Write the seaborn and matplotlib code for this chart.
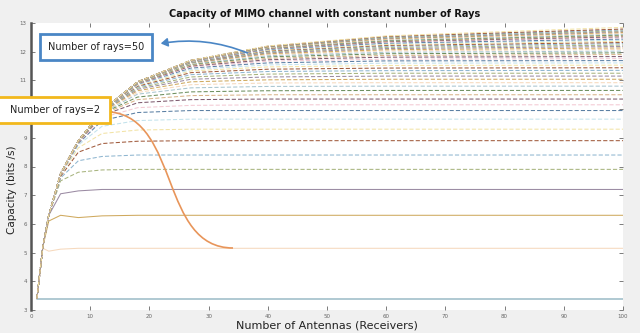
import numpy as np
import matplotlib
matplotlib.use("Agg")
import matplotlib.pyplot as plt
import seaborn as sns
from matplotlib.patches import Rectangle, PathPatch, FancyArrowPatch
from matplotlib.path import Path

# values: capacity (bits/s) per number of rays (rows)
# at each number of receive antennas (columns)
antennas = [1, 2, 3, 5, 8, 12, 18, 27, 40, 60, 100]
rays = list(range(1, 51))
capacity = [
    [3.4, 3.4, 3.4, 3.4, 3.4, 3.4, 3.4, 3.4, 3.4, 3.4, 3.4],
    [3.4, 5.15, 5.05, 5.12, 5.15, 5.15, 5.15, 5.15, 5.15, 5.15, 5.15],
    [3.4, 5.2, 6.1, 6.3, 6.22, 6.28, 6.3, 6.3, 6.3, 6.3, 6.3],
    [3.4, 5.2, 6.3, 7.05, 7.15, 7.2, 7.2, 7.2, 7.2, 7.2, 7.2],
    [3.4, 5.2, 6.3, 7.5, 7.8, 7.88, 7.9, 7.9, 7.9, 7.9, 7.9],
    [3.4, 5.2, 6.3, 7.6, 8.2, 8.35, 8.4, 8.4, 8.4, 8.4, 8.4],
    [3.4, 5.2, 6.3, 7.65, 8.5, 8.8, 8.88, 8.9, 8.9, 8.9, 8.9],
    [3.4, 5.2, 6.3, 7.7, 8.65, 9.15, 9.27, 9.3, 9.3, 9.3, 9.3],
    [3.4, 5.2, 6.3, 7.7, 8.75, 9.4, 9.6, 9.65, 9.65, 9.65, 9.65],
    [3.4, 5.2, 6.3, 7.72, 8.8, 9.6, 9.88, 9.95, 9.95, 9.95, 9.95],
    [3.4, 5.2, 6.3, 7.72, 8.83, 9.7, 10.05, 10.13, 10.15, 10.15, 10.15],
    [3.4, 5.2, 6.3, 7.73, 8.85, 9.78, 10.22, 10.33, 10.35, 10.35, 10.35],
    [3.4, 5.2, 6.3, 7.73, 8.86, 9.82, 10.33, 10.47, 10.5, 10.5, 10.5],
    [3.4, 5.2, 6.3, 7.74, 8.87, 9.85, 10.42, 10.6, 10.64, 10.65, 10.65],
    [3.4, 5.2, 6.3, 7.74, 8.88, 9.88, 10.52, 10.74, 10.79, 10.8, 10.8],
    [3.4, 5.2, 6.3, 7.74, 8.88, 9.9, 10.58, 10.85, 10.91, 10.92, 10.92],
    [3.4, 5.2, 6.3, 7.75, 8.89, 9.91, 10.64, 10.95, 11.02, 11.04, 11.04],
    [3.4, 5.2, 6.3, 7.75, 8.89, 9.92, 10.69, 11.04, 11.12, 11.15, 11.15],
    [3.4, 5.2, 6.3, 7.75, 8.89, 9.93, 10.73, 11.12, 11.22, 11.25, 11.25],
    [3.4, 5.2, 6.3, 7.75, 8.9, 9.93, 10.77, 11.2, 11.31, 11.34, 11.35],
    [3.4, 5.2, 6.3, 7.75, 8.9, 9.95, 10.8, 11.27, 11.39, 11.43, 11.44],
    [3.4, 5.2, 6.3, 7.75, 8.9, 9.95, 10.83, 11.33, 11.47, 11.52, 11.53],
    [3.4, 5.2, 6.3, 7.75, 8.9, 9.95, 10.85, 11.38, 11.54, 11.6, 11.61],
    [3.4, 5.2, 6.3, 7.75, 8.9, 9.95, 10.87, 11.43, 11.61, 11.68, 11.69],
    [3.4, 5.2, 6.3, 7.75, 8.9, 9.95, 10.88, 11.47, 11.67, 11.74, 11.76],
    [3.4, 5.2, 6.3, 7.75, 8.9, 9.95, 10.89, 11.5, 11.72, 11.81, 11.83],
    [3.4, 5.2, 6.3, 7.75, 8.9, 9.95, 10.9, 11.53, 11.77, 11.87, 11.9],
    [3.4, 5.2, 6.3, 7.75, 8.9, 9.95, 10.91, 11.56, 11.82, 11.93, 11.96],
    [3.4, 5.2, 6.3, 7.75, 8.9, 9.95, 10.92, 11.58, 11.86, 11.98, 12.02],
    [3.4, 5.2, 6.3, 7.75, 8.9, 9.95, 10.92, 11.6, 11.9, 12.03, 12.08],
    [3.4, 5.2, 6.3, 7.75, 8.9, 9.95, 10.93, 11.61, 11.93, 12.07, 12.13],
    [3.4, 5.2, 6.3, 7.75, 8.9, 9.95, 10.93, 11.62, 11.96, 12.11, 12.18],
    [3.4, 5.2, 6.3, 7.75, 8.9, 9.95, 10.93, 11.63, 11.99, 12.15, 12.23],
    [3.4, 5.2, 6.3, 7.75, 8.9, 9.95, 10.94, 11.64, 12.01, 12.19, 12.28],
    [3.4, 5.2, 6.3, 7.75, 8.9, 9.95, 10.94, 11.65, 12.03, 12.22, 12.32],
    [3.4, 5.2, 6.3, 7.75, 8.9, 9.95, 10.94, 11.66, 12.05, 12.25, 12.36],
    [3.4, 5.2, 6.3, 7.75, 8.9, 9.95, 10.94, 11.66, 12.07, 12.28, 12.4],
    [3.4, 5.2, 6.3, 7.75, 8.9, 9.95, 10.94, 11.67, 12.08, 12.3, 12.44],
    [3.4, 5.2, 6.3, 7.75, 8.9, 9.95, 10.95, 11.67, 12.1, 12.33, 12.48],
    [3.4, 5.2, 6.3, 7.75, 8.9, 9.95, 10.95, 11.68, 12.11, 12.35, 12.52],
    [3.4, 5.2, 6.3, 7.75, 8.9, 9.95, 10.95, 11.68, 12.12, 12.37, 12.55],
    [3.4, 5.2, 6.3, 7.75, 8.9, 9.95, 10.95, 11.68, 12.13, 12.39, 12.58],
    [3.4, 5.2, 6.3, 7.75, 8.9, 9.95, 10.95, 11.69, 12.14, 12.41, 12.61],
    [3.4, 5.2, 6.3, 7.75, 8.9, 9.95, 10.95, 11.69, 12.15, 12.43, 12.64],
    [3.4, 5.2, 6.3, 7.75, 8.9, 9.95, 10.95, 11.69, 12.16, 12.45, 12.67],
    [3.4, 5.2, 6.3, 7.75, 8.9, 9.95, 10.95, 11.69, 12.17, 12.47, 12.7],
    [3.4, 5.2, 6.3, 7.75, 8.9, 9.95, 10.95, 11.7, 12.18, 12.49, 12.73],
    [3.4, 5.2, 6.3, 7.75, 8.9, 9.95, 10.95, 11.7, 12.19, 12.51, 12.76],
    [3.4, 5.2, 6.3, 7.75, 8.9, 9.95, 10.95, 11.7, 12.19, 12.53, 12.79],
    [3.4, 5.2, 6.3, 7.75, 8.9, 9.95, 10.95, 11.7, 12.2, 12.55, 12.85],
]
line_colors = ["#a9c5cf", "#f6d9bd", "#cfa95e", "#9b8ba3", "#a8b47e", "#8fb6d0",
               "#a05a3c", "#f2e3a6", "#c2e2ec", "#5a7fa3", "#f3c9d3", "#7e5a6e",
               "#d9b48a", "#6d8f5e"]

sns.set_style("white")
plt.rcParams['font.family'] = ['DejaVu Sans']

fig = plt.figure(figsize=(6.4, 3.33), dpi=100, facecolor='#f0f0f0')
ax = fig.add_axes([31 / 640, 1 - 310 / 333, 592 / 640, 287 / 333])
ax.set_facecolor('white')

for i, r in enumerate(rays):
    ls = '-' if r <= 4 else (0, (4, 2))
    lw = 1.3 if r == 1 else 0.75
    sns.lineplot(x=antennas, y=capacity[i], ax=ax, color=line_colors[i % len(line_colors)],
                 linewidth=lw, linestyle=ls, zorder=2 + i * 0.01)

ax.set_xlim(0, 100)
ax.set_ylim(3, 13)
ax.set_xticks(range(0, 101, 10))
ax.set_yticks(range(3, 14))
ax.tick_params(direction='in', length=3, width=0.6, labelsize=4, colors='#666666',
               top=True, right=True, bottom=True, left=True, pad=3)
# the "rays=2" box sits on top of the 10 label, as in the original
for lab in ax.get_yticklabels():
    if lab.get_text() == '10':
        lab.set_visible(False)
for s in ['top', 'right', 'bottom']:
    ax.spines[s].set_visible(False)
ax.spines['left'].set_color('#555555')
ax.spines['left'].set_linewidth(1.8)

ax.set_xlabel('Number of Antennas (Receivers)', fontsize=8, color='#222222', labelpad=1)
ax.set_ylabel('Capacity (bits /s)', fontsize=7.5, color='#222222')
ax.yaxis.set_label_coords(-0.024, 0.42)
fig.text(325 / 640, 1 - 14 / 333, 'Capacity of MIMO channel with constant number of Rays',
         ha='center', va='center', fontsize=7, fontweight='bold', color='#111111')


def fx(px):
    return px / 640


def fy(py):
    return 1 - py / 333


# rays=50 box and arrow
fig.add_artist(Rectangle((fx(40), fy(60)), fx(112), 26 / 333, transform=fig.transFigure,
                         facecolor='white', edgecolor='#4a86c5', linewidth=2, zorder=10))
fig.text(fx(96), fy(47), 'Number of rays=50', ha='center', va='center', fontsize=7,
         color='#222222', zorder=11)
fig.add_artist(FancyArrowPatch((fx(250), fy(54)), (fx(158), fy(44)), transform=fig.transFigure,
                               arrowstyle='-|>,head_length=4,head_width=2.5',
                               connectionstyle='arc3,rad=0.15', color='#4a86c5',
                               linewidth=1.2, zorder=10))

# rays=2 box and connector
fig.add_artist(Rectangle((fx(-5), fy(123)), fx(115), 26 / 333, transform=fig.transFigure,
                         facecolor='white', edgecolor='#f2b81c', linewidth=2, zorder=10))
fig.text(fx(10), fy(110), 'Number of rays=2', ha='left', va='center', fontsize=7,
         color='#222222', zorder=11)
verts = [(fx(111), fy(112)), (fx(180), fy(120)), (fx(160), fy(248)), (fx(233), fy(248))]
codes = [Path.MOVETO, Path.CURVE4, Path.CURVE4, Path.CURVE4]
fig.add_artist(PathPatch(Path(verts, codes), transform=fig.transFigure, facecolor='none',
                         edgecolor='#e8955a', linewidth=1.2, zorder=9))

fig.savefig('out.png', dpi=100, facecolor=fig.get_facecolor())
